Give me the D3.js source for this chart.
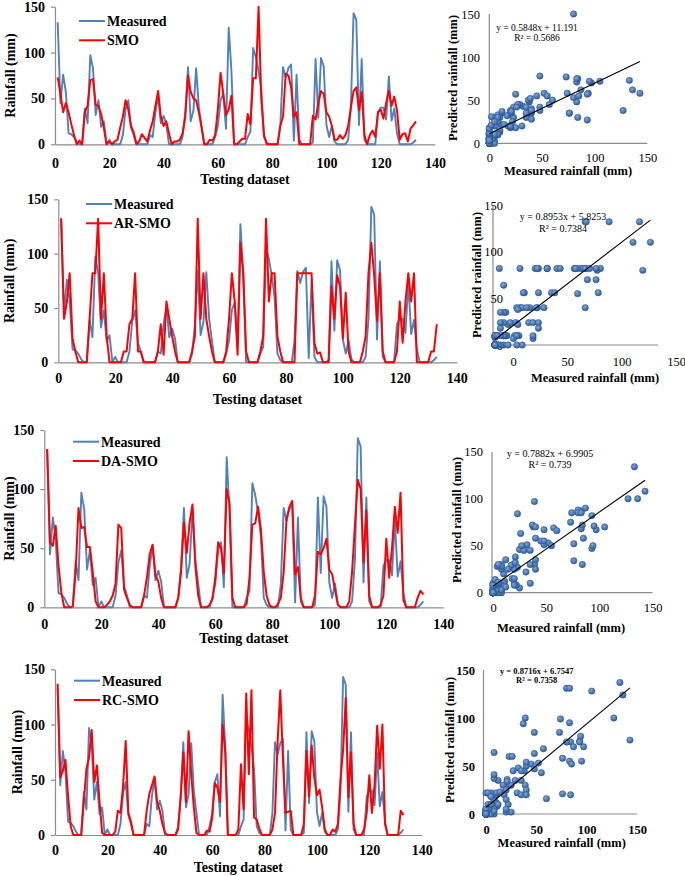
<!DOCTYPE html>
<html>
<head>
<meta charset="utf-8">
<script src="https://cdn.jsdelivr.net/npm/d3@7"></script>
<style>
  body { margin: 0; background: #fff; }
  svg { display: block; }
  text { font-family: "Liberation Serif", "Times New Roman", serif; fill: #000; }
</style>
</head>
<body>
<svg id="fig" width="685" height="876"></svg>
<script>

// measured rainfall, testing dataset index 1..133
const measured = [
  133, 45, 76, 57, 12, 11, 8, 3, 0, 0,
  39, 23, 97, 83, 32, 48, 19, 25, 0, 5,
  0, 0, 0, 0, 10, 38, 48, 18, 10, 0,
  0, 0, 0, 0, 10, 8, 35, 52, 23, 31,
  22, 0, 0, 0, 0, 0, 8, 35, 84, 25,
  37, 83, 40, 20, 0, 0, 0, 0, 8, 20,
  48, 55, 17, 127, 80, 0, 0, 0, 0, 0,
  8, 14, 105, 95, 80, 60, 8, 2, 0, 0,
  0, 0, 20, 84, 73, 83, 87, 4, 76, 5,
  0, 0, 0, 0, 2, 93, 29, 94, 85, 21,
  8, 20, 3, 0, 0, 0, 0, 5, 40, 143,
  136, 21, 93, 5, 0, 0, 0, 0, 35, 40,
  40, 27, 74, 26, 39, 12, 0, 0, 0, 0,
  0, 2, 5
]

const smo = [
  73, 55, 35, 45, 35, 22, 10, 0, 4, 0,
  35, 42, 70, 71, 43, 42, 33, 18, 0, 3,
  0, 3, 5, 18, 30, 48, 38, 20, 13, 0,
  3, 11, 7, 3, 15, 25, 42, 58, 30, 20,
  25, 12, 0, 3, 3, 5, 12, 30, 75, 57,
  50, 48, 35, 18, 0, 0, 5, 4, 10, 38,
  78, 55, 32, 38, 53, 0, 0, 3, 6, 6,
  33, 22, 72, 72, 150, 50, 10, 0, 0, 0,
  0, 0, 20, 30, 77, 75, 62, 30, 35, 0,
  0, 0, 0, 0, 31, 27, 45, 58, 55, 35,
  30, 20, 5, 5, 10, 6, 10, 20, 40, 58,
  62, 37, 57, 10, 0, 10, 15, 8, 35, 38,
  28, 45, 58, 42, 52, 37, 5, 11, 12, 3,
  17, 21, 25
]

const arSmo = [
  132, 40, 55, 82, 22, 10, 0, 0, 0, 0,
  40, 82, 82, 132, 40, 82, 24, 0, 0, 0,
  0, 0, 10, 10, 35, 40, 82, 10, 10, 0,
  0, 0, 0, 0, 10, 35, 7, 56, 40, 24,
  10, 0, 0, 0, 0, 0, 10, 24, 132, 40,
  82, 40, 24, 10, 0, 0, 0, 0, 10, 40,
  82, 56, 7, 110, 82, 10, 0, 0, 0, 0,
  10, 24, 132, 56, 82, 82, 24, 10, 0, 0,
  0, 0, 0, 82, 82, 82, 82, 82, 82, 18,
  8, 9, 0, 0, 0, 70, 40, 80, 70, 22,
  64, 10, 0, 0, 0, 0, 10, 24, 82, 110,
  80, 38, 82, 10, 0, 0, 0, 0, 10, 56,
  18, 56, 82, 56, 82, 0, 0, 0, 0, 0,
  10, 10, 35
]

const daSmo = [
  134, 55, 52, 69, 35, 12, 0, 0, 0, 1,
  30, 84, 67, 68, 51, 51, 30, 5, 0, 0,
  0, 2, 5, 10, 20, 70, 67, 15, 8, 2,
  0, 0, 0, 0, 10, 25, 45, 53, 27, 22,
  8, 0, 0, 0, 0, 0, 8, 30, 72, 46,
  72, 87, 35, 10, 0, 0, 0, 2, 7, 25,
  55, 50, 29, 100, 88, 8, 0, 0, 0, 0,
  3, 25, 70, 71, 85, 66, 30, 10, 2, 0,
  0, 3, 8, 30, 75, 85, 90, 28, 34, 8,
  0, 0, 0, 0, 10, 47, 45, 50, 58, 32,
  28, 15, 2, 0, 0, 0, 5, 30, 70, 108,
  100, 38, 82, 10, 0, 0, 0, 2, 10, 58,
  25, 50, 85, 63, 97, 6, 0, 0, 0, 0,
  8, 14, 11
]

const rcSmo = [
  137, 52, 58, 68, 35, 8, 0, 0, 0, 0,
  30, 60, 70, 95, 48, 63, 30, 2, 0, 0,
  0, 0, 3, 22, 20, 45, 85, 20, 12, 0,
  0, 0, 0, 0, 22, 37, 45, 53, 30, 22,
  10, 2, 0, 0, 0, 0, 5, 35, 75, 30,
  94, 55, 25, 2, 0, 0, 0, 4, 3, 15,
  47, 43, 30, 100, 75, 0, 0, 0, 0, 5,
  64, 23, 128, 55, 131, 16, 14, 6, 0, 0,
  0, 0, 5, 20, 85, 131, 70, 20, 21, 22,
  0, 0, 0, 0, 10, 76, 35, 81, 52, 36,
  41, 25, 5, 0, 0, 5, 3, 10, 50, 77,
  124, 34, 75, 10, 0, 0, 0, 5, 20, 54,
  20, 45, 99, 60, 100, 10, 0, 0, 0, 0,
  0, 22, 18
]

const modelNames = ['SMO', 'AR-SMO', 'DA-SMO', 'RC-SMO']
const slopes = [0.5848, 0.8953, 0.7882, 0.8716]
const intercepts = [11.191, 5.8253, 6.9905, 6.7547]
const r2Labels = ['0.5686', '0.7384', '0.739', '0.7358']
const lineTicks = [0, 20, 40, 60, 80, 100, 120, 140]
const rainTicks = [0, 50, 100, 150]

const models = [smo, arSmo, daSmo, rcSmo]

// layout of the four time-series panels (pixel positions)
const linePanels = [
  { x0: 55, x1: 435, y0: 144.3, y1: 6.7, tickY: 163, titleY: 179, ylabX: 10, legX: 79, legY: 21 },
  { x0: 58.3, x1: 456.7, y0: 362.3, y1: 199.3, tickY: 378, titleY: 399, ylabX: 9, legX: 86, legY: 204 },
  { x0: 44.3, x1: 443.3, y0: 607.3, y1: 430, tickY: 624, titleY: 638, ylabX: 9, legX: 73, legY: 441.7 },
  { x0: 55, x1: 421.7, y0: 835, y1: 669.3, tickY: 850, titleY: 867, ylabX: 17, legX: 74, legY: 680.7 }
]

// layout of the four scatter panels
const scatterPanels = [
  { axisX: 489.3, x0: 489.3, x1: 647.3, y0: 143.3, y1: 14, xlabY: 157.5, xlabShift: 0, ylabRight: 480,
    xTitle: [568, 171], yTitle: [453, 78], eq: [537, 28], r2Y: 38, eqSize: 9.5, boldTicks: false, boldEq: false },
  { axisX: 493, x0: 495, x1: 658, y0: 345, y1: 205, xlabY: 362, xlabShift: 18, ylabRight: 503,
    xTitle: [595, 378], yTitle: [476.7, 275], eq: [563, 216], r2Y: 228, eqSize: 10, boldTicks: false, boldEq: false },
  { axisX: 492, x0: 493, x1: 652.5, y0: 592.7, y1: 451.7, xlabY: 607.3, xlabShift: 0, ylabRight: 483,
    xTitle: [561, 628], yTitle: [457, 520], eq: [550, 453], r2Y: 464, eqSize: 10, boldTicks: false, boldEq: false },
  { axisX: 483.5, x0: 486, x1: 637, y0: 814, y1: 670, xlabY: 829.3, xlabShift: 0, ylabRight: 475,
    xTitle: [561.7, 843], yTitle: [450, 740], eq: [536.7, 671], r2Y: 680, eqSize: 8.5, boldTicks: true, boldEq: true }
]

const BLUE = '#4F81BD'
const RED = '#FF0000'
const AXIS = '#8C8C8C'
const LINE_FONT = 14

const svg = d3.select('#fig')

const defs = svg.append('defs')
const grad = defs.append('radialGradient').attr('id', 'dot').attr('cx', '40%').attr('cy', '35%').attr('r', '65%')
grad.append('stop').attr('offset', '0%').attr('stop-color', '#7FA6D8')
grad.append('stop').attr('offset', '100%').attr('stop-color', '#2F5E9C')

function lineChart(p, model, name) {
  const x = d3.scaleLinear().domain([0, 140]).range([p.x0, p.x1])
  const y = d3.scaleLinear().domain([0, 150]).range([p.y0, p.y1])
  const g = svg.append('g')

  const xAxis = g.append('g')
    .attr('transform', `translate(0,${p.y0})`)
    .call(d3.axisBottom(x).tickValues(lineTicks).tickSize(0).tickPadding(0))
  xAxis.selectAll('text').attr('y', p.tickY - p.y0).attr('dy', '0.35em')

  g.append('g')
    .attr('transform', `translate(${p.x0},0)`)
    .call(d3.axisLeft(y).tickValues(rainTicks).tickSize(4).tickPadding(6).tickSizeOuter(0))

  g.selectAll('.domain, .tick line').attr('stroke', AXIS).attr('stroke-width', 1.2)
  g.selectAll('.tick text').attr('font-size', LINE_FONT).attr('font-weight', 'bold')
    .attr('font-family', '"Liberation Serif", serif').attr('fill', '#000')

  g.append('text')
    .attr('x', (p.x0 + p.x1) / 2).attr('y', p.titleY).attr('dy', '0.35em')
    .attr('text-anchor', 'middle').attr('font-size', LINE_FONT).attr('font-weight', 'bold')
    .text('Testing dataset')

  g.append('text')
    .attr('transform', `translate(${p.ylabX},${(p.y0 + p.y1) / 2}) rotate(-90)`)
    .attr('dy', '0.35em').attr('text-anchor', 'middle')
    .attr('font-size', LINE_FONT).attr('font-weight', 'bold')
    .text('Rainfall (mm)')

  const line = d3.line().x((d, i) => x(i + 1)).y(d => y(d))

  g.append('path').datum(measured)
    .attr('d', line).attr('fill', 'none').attr('stroke', BLUE)
    .attr('stroke-width', 1.9).attr('stroke-linejoin', 'round')

  g.append('path').datum(model)
    .attr('d', line).attr('fill', 'none').attr('stroke', RED)
    .attr('stroke-width', 2).attr('stroke-linejoin', 'round')

  // legend
  const leg = [{ label: 'Measured', color: BLUE }, { label: name, color: RED }]
  leg.forEach((l, i) => {
    const ly = p.legY + i * 19.3
    g.append('line').attr('x1', p.legX).attr('x2', p.legX + 26)
      .attr('y1', ly).attr('y2', ly).attr('stroke', l.color).attr('stroke-width', 2)
    g.append('text').attr('x', p.legX + 28).attr('y', ly).attr('dy', '0.35em')
      .attr('font-size', LINE_FONT).attr('font-weight', 'bold').text(l.label)
  })
}

function scatter(s, model, k) {
  const x = d3.scaleLinear().domain([0, 150]).range([s.x0, s.x1])
  const y = d3.scaleLinear().domain([0, 150]).range([s.y0, s.y1])
  const xl = d3.scaleLinear().domain([0, 150]).range([s.x0 + s.xlabShift, s.x1 + s.xlabShift])
  const g = svg.append('g')
  const fw = s.boldTicks ? 'bold' : 'normal'

  g.append('line').attr('x1', s.axisX).attr('x2', x(150)).attr('y1', s.y0).attr('y2', s.y0)
    .attr('stroke', AXIS).attr('stroke-width', 1.2)
  g.append('line').attr('x1', s.axisX).attr('x2', s.axisX).attr('y1', s.y0).attr('y2', s.y1)
    .attr('stroke', AXIS).attr('stroke-width', 1.2)

  const xa = g.append('g').attr('transform', `translate(0,${s.xlabY})`)
    .call(d3.axisBottom(xl).tickValues(rainTicks).tickSize(0).tickPadding(0))
  xa.selectAll('text').attr('y', 0).attr('dy', '0.35em')

  g.append('g').attr('transform', `translate(${s.ylabRight},0)`)
    .call(d3.axisLeft(y).tickValues(rainTicks).tickSize(0).tickPadding(0))

  g.selectAll('.domain').remove()
  g.selectAll('.tick text').attr('font-size', 12.5).attr('font-weight', fw)
    .attr('font-family', '"Liberation Serif", serif').attr('fill', '#000')

  g.append('text')
    .attr('x', s.xTitle[0]).attr('y', s.xTitle[1]).attr('dy', '0.35em')
    .attr('text-anchor', 'middle').attr('font-size', 12.5).attr('font-weight', 'bold')
    .text('Measured rainfall (mm)')

  g.append('text')
    .attr('transform', `translate(${s.yTitle[0]},${s.yTitle[1]}) rotate(-90)`)
    .attr('dy', '0.35em').attr('text-anchor', 'middle')
    .attr('font-size', 12.5).attr('font-weight', 'bold')
    .text('Predicted rainfall (mm)')

  const pts = measured.map((m, i) => ({ m, p: model[i] }))
  g.append('g').selectAll('circle').data(pts).enter().append('circle')
    .attr('cx', d => x(d.m)).attr('cy', d => y(d.p)).attr('r', 3.2)
    .attr('fill', 'url(#dot)').attr('stroke', '#2A5590').attr('stroke-width', 0.5)

  const xmax = d3.max(measured)
  g.append('line')
    .attr('x1', x(0)).attr('y1', y(intercepts[k]))
    .attr('x2', x(xmax)).attr('y2', y(slopes[k] * xmax + intercepts[k]))
    .attr('stroke', '#000').attr('stroke-width', 1.1)

  const eqw = s.boldEq ? 'bold' : 'normal'
  g.append('text').attr('x', s.eq[0]).attr('y', s.eq[1]).attr('dy', '0.35em')
    .attr('text-anchor', 'middle').attr('font-size', s.eqSize).attr('font-weight', eqw).attr('fill', '#222')
    .text(`y = ${slopes[k]}x + ${intercepts[k]}`)
  g.append('text').attr('x', s.eq[0]).attr('y', s.r2Y).attr('dy', '0.35em')
    .attr('text-anchor', 'middle').attr('font-size', s.eqSize).attr('font-weight', eqw).attr('fill', '#222')
    .text(`R² = ${r2Labels[k]}`)
}

linePanels.forEach((p, k) => lineChart(p, models[k], modelNames[k]))
scatterPanels.forEach((s, k) => scatter(s, models[k], k))

</script>
</body>
</html>
